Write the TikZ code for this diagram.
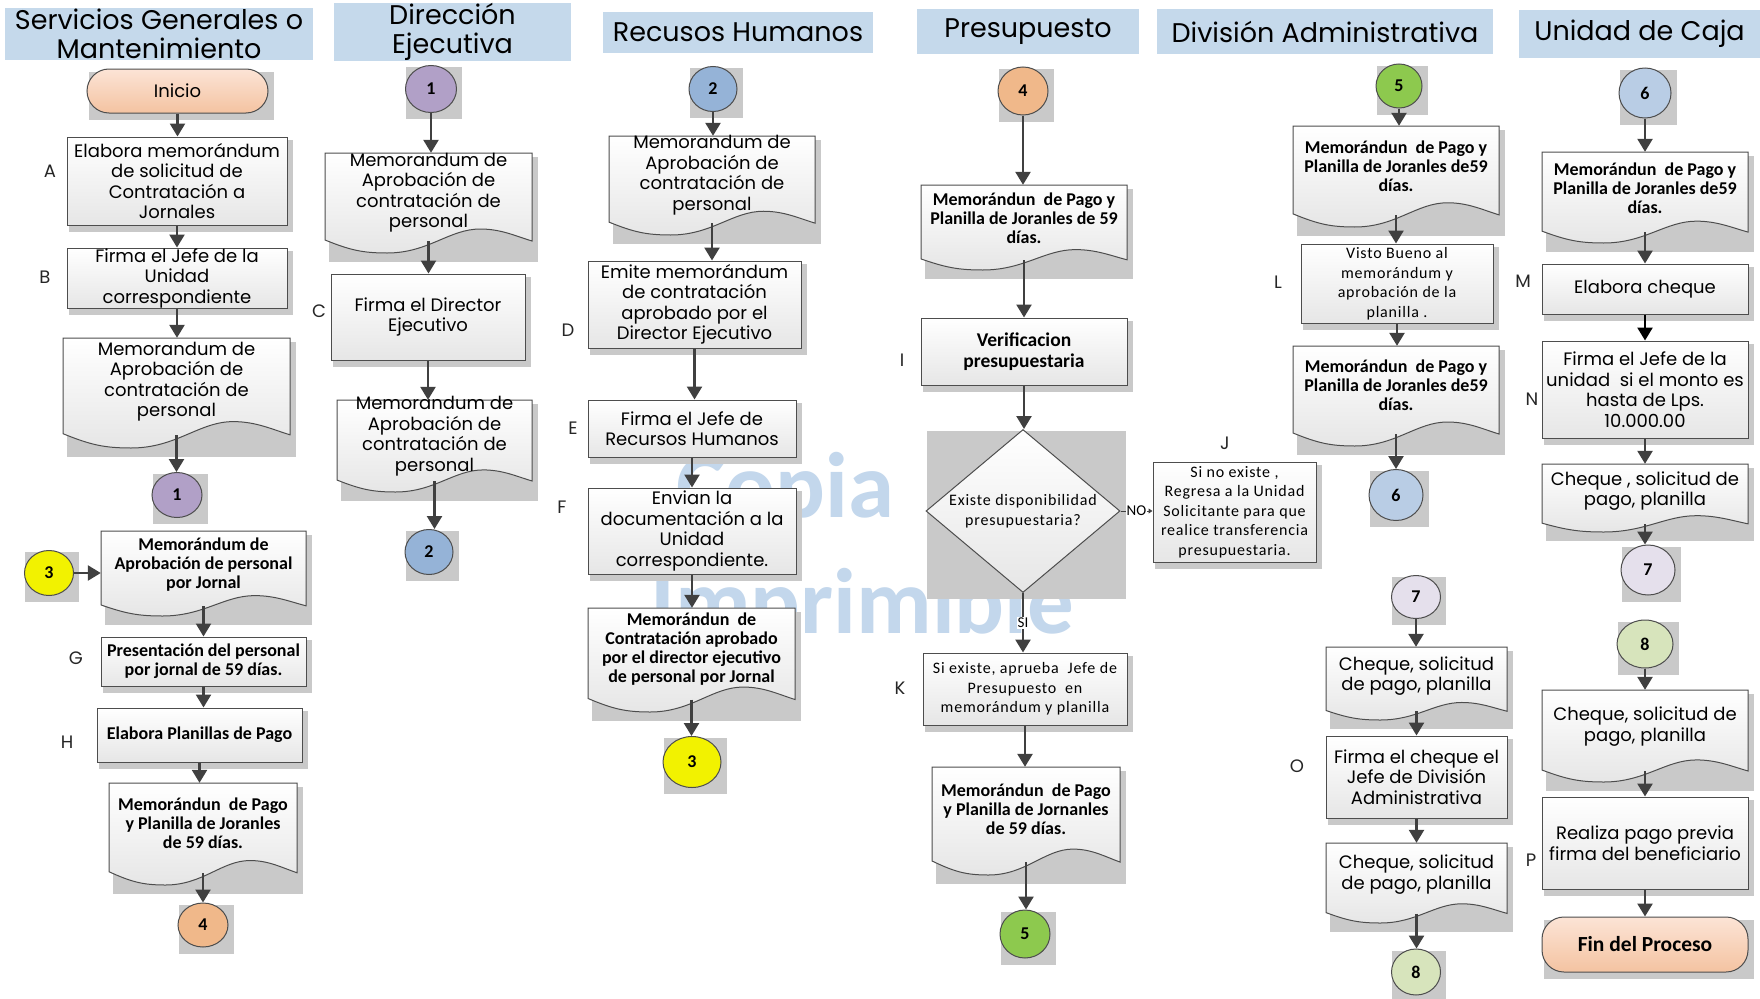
\documentclass[tikz,border=0pt]{standalone}
\usepackage{fontspec}
\usetikzlibrary{arrows.meta,shapes.geometric,calc}
\newfontfamily\gfont{Poppins}
\newfontfamily\cfont{Carlito}
\newfontfamily\cfontsp[LetterSpace=5]{Carlito}

\definecolor{hdrc}{HTML}{C5D9EB}
\definecolor{edgec}{HTML}{4D4D4D}
\definecolor{arrc}{HTML}{404040}
\definecolor{shadc}{HTML}{C9C9C9}
\definecolor{boxbot}{HTML}{E6E6E6}
\definecolor{termtop}{HTML}{FCE4D6}
\definecolor{termbot}{HTML}{F4C3A1}
\definecolor{wmc}{HTML}{C3D7EC}
\definecolor{cpur}{HTML}{B1A0C7}
\definecolor{cblu}{HTML}{95B3D7}
\definecolor{cyel}{HTML}{F2F200}
\definecolor{corg}{HTML}{F0B88A}
\definecolor{cgrn}{HTML}{8DC94E}
\definecolor{clbl}{HTML}{B9CDE5}
\definecolor{clav}{HTML}{E5E0EC}
\definecolor{coli}{HTML}{D7E4BC}

\pgfdeclarelayer{wm}
\pgfdeclarelayer{shad}
\pgfsetlayers{wm,shad,main}

\tikzset{
  hdr/.style={fill=hdrc, inner sep=0pt, align=center, font=\gfont\fontsize{27}{29.5}\selectfont},
  proc/.style={draw=edgec, line width=1pt, top color=white, bottom color=boxbot, inner sep=0pt, align=center},
  docline/.style={draw=edgec, line width=1pt, top color=white, bottom color=boxbot},
  reg/.style={font=\gfont\fontsize{18}{20.5}\selectfont},
  bld/.style={font=\cfont\bfseries\fontsize{18}{19}\selectfont},
  bldL/.style={font=\cfont\bfseries\fontsize{19.5}{21}\selectfont},
  bldT/.style={font=\cfont\bfseries\fontsize{21.5}{23}\selectfont},
  spc/.style={font=\cfontsp\fontsize{16}{19.5}\selectfont},
  term/.style={rounded corners=22pt, top color=termtop, bottom color=termbot},
  conn/.style={ellipse, draw=edgec, line width=1pt, inner sep=0pt, font=\cfont\bfseries\fontsize{18}{18}\selectfont},
  arr/.style={draw=arrc, line width=2.5pt, -{Triangle[width=15pt,length=13pt]}},
  lbl/.style={font=\gfont\fontsize{18}{18}\selectfont, text=black!85, inner sep=0pt},
  tag/.style={fill=white, inner sep=1pt, font=\cfont\fontsize{15}{15}\selectfont},
  wmark/.style={font=\cfont\bfseries\fontsize{93}{93}\selectfont, text=wmc, inner sep=0pt, anchor=base west}
}

% gray drop box behind a node (bounding box, shifted)
\newcommand\shadowof[5]{%
  \path (#1.west |- #1.north) coordinate (tmpa) (#1.east |- #1.south) coordinate (tmpb);
  \begin{pgfonlayer}{shad}
    \fill[shadc] ($(tmpa)+(#2,#3)$) rectangle ($(tmpb)+(#4,#5)$);
  \end{pgfonlayer}}

% process box: style, name, x1, y1, x2, y2, text
\newcommand\pbox[7]{%
  \pgfmathsetmacro\bxX{(#3+#5)/2}%
  \pgfmathsetmacro\bxY{(#4+#6)/2}%
  \pgfmathsetmacro\bxW{#5-#3}%
  \pgfmathsetmacro\bxH{#6-#4}%
  \node[proc,#1,minimum width=\bxW pt,minimum height=\bxH pt] (#2) at (\bxX,\bxY) {#7};
  \shadowof{#2}{2}{3}{5}{6}}

% document shape: style, name, x1, top, x2, lowest point of the wave, text
% (#2 is the body down to the wave at mid width, #2t holds the text)
\newcommand\dbox[7]{%
  \pgfmathsetmacro\docW{#5-#3}%
  \pgfmathsetmacro\docH{#6-#4}%
  \pgfmathsetmacro\docX{(#3+#5)/2}%
  \pgfmathsetmacro\docY{#4+0.44*\docH}%
  \pgfmathsetmacro\docT{#4+0.395*\docH}%
  \pgfmathsetmacro\docN{0.88*\docH}%
  \begin{pgfonlayer}{shad}
    \fill[shadc] (#3+4,#4+4) rectangle (#5+6,#6+9);
  \end{pgfonlayer}
  \draw[docline] (#3,#4) -- (#3,#6-0.13*\docH)
    .. controls +(0.12*\docW,0.1*\docH) and +(-0.12*\docW,0) .. (#3+0.3*\docW,#6)
    .. controls +(0.2*\docW,0) and +(-0.15*\docW,0) .. (#3+0.75*\docW,#6-0.24*\docH)
    .. controls +(0.1*\docW,0) and +(-0.08*\docW,-0.05*\docH) .. (#5,#6-0.12*\docH)
    -- (#5,#4) -- cycle;
  \node[inner sep=0pt, minimum width=\docW pt, minimum height=\docN pt] (#2) at (\docX,\docY) {};
  \node[#1, align=center, inner sep=0pt] (#2t) at (\docX,\docT) {#7};}

% off-page connector circle: name, cx, cy, width, height, colour, text
\newcommand\cnode[7]{%
  \node[conn, fill=#6, minimum width=#4pt, minimum height=#5pt] (#1) at (#2,#3) {#7};
  \shadowof{#1}{1}{2}{5}{6}}

% vertical flow arrow between two named nodes
\newcommand\flow[3][]{\draw[arr,#1] (#2.south) -- (#2.south |- #3.north);}

\begin{document}
\begin{tikzpicture}[x=1pt,y=-1pt]
\useasboundingbox (0,0) rectangle (1760,998);
\begin{pgfonlayer}{wm}
  \fill[white] (0,0) rectangle (1760,998);
  \node[wmark] (wm1) at (676,517) {Copia};
  \node[wmark] (wm2) at (650,633) {Imprimible};
\end{pgfonlayer}

% lane headers
\node[hdr, minimum width=308pt, minimum height=52pt] (h1) at (159,34) {Servicios Generales o\\Mantenimiento};
\node[hdr, minimum width=237pt, minimum height=46pt] (h2) at (452.5,32) {Dirección\\Ejecutiva};
\node[hdr, minimum width=270pt, minimum height=41pt] (h3) at (738,32.5) {Recusos Humanos};
\node[hdr, minimum width=222pt, minimum height=45pt] (h4) at (1028,31.5) {Presupuesto};
\node[hdr, minimum width=336pt, minimum height=45pt] (h5) at (1325,31.5) {División Administrativa};
\node[hdr, minimum width=241pt, minimum height=48pt] (h6) at (1639.5,34) {Unidad de Caja};

% Servicios Generales o Mantenimiento
\pbox{term,reg}{ini}{87}{69}{268}{113}{Inicio}
\pbox{reg}{A}{67}{137}{287}{225}{Elabora memorándum\\de solicitud de\\Contratación a\\Jornales}
\pbox{reg}{B}{67}{248}{287}{308}{Firma el Jefe de la\\Unidad\\correspondiente}
\dbox{reg}{dA}{63}{338}{290}{448}{Memorandum de\\Aprobación de\\contratación de\\personal}
\cnode{c1a}{177}{495}{50}{45}{cpur}{1}
\cnode{c3a}{49}{573}{49}{45}{cyel}{3}
\dbox{bld}{dB}{101}{531}{306}{616}{Memorándum de\\Aprobación de personal\\por Jornal}
\pbox{bld}{G}{101}{637}{306}{686}{Presentación del personal\\por jornal de 59 días.}
\pbox{bld}{H}{97}{708}{302}{762}{Elabora Planillas de Pago}
\dbox{bld}{dC}{109}{783}{297}{885}{Memorándun~ de Pago\\y Planilla de Joranles\\de 59 días.}
\cnode{c4a}{203}{925}{50}{44}{corg}{4}

% Dirección Ejecutiva
\cnode{c1b}{431}{89}{51}{47}{cpur}{1}
\dbox{reg}{dD}{325}{153}{532}{253}{Memorandum de\\Aprobación de\\contratación de\\personal}
\pbox{reg}{C}{331}{274}{525}{360}{Firma el Director\\Ejecutivo}
\dbox{reg}{dE}{337}{400}{532}{492}{Memorandum de\\Aprobación de\\contratación de\\personal}
\cnode{c2b}{429}{552}{48}{45}{cblu}{2}

% Recursos Humanos
\cnode{c2c}{713}{89}{48}{45}{cblu}{2}
\dbox{reg}{dF}{609}{136}{815}{235}{Memorandum de\\Aprobación de\\contratación de\\personal}
\pbox{reg}{D}{588}{261}{801}{348}{Emite memorándum\\de contratación\\aprobado por el\\Director Ejecutivo}
\pbox{reg}{E}{588}{400}{796}{457}{Firma el Jefe de\\Recursos Humanos}
\pbox{reg}{F}{588}{488}{796}{574}{Envian la\\documentación a la\\Unidad\\correspondiente.}
\dbox{bld}{dG}{588}{608}{795}{712}{Memorándun~ de\\Contratación aprobado\\por el director ejecutivo\\de personal por Jornal}
\cnode{c3c}{692}{762}{58}{51}{cyel}{3}

% Presupuesto
\cnode{c4d}{1023}{91}{50}{48}{corg}{4}
\dbox{bld}{dH}{921}{185}{1127}{270}{Memorándun~ de Pago y\\Planilla de Joranles de 59\\días.}
\pbox{bldL}{I}{921}{318}{1127}{385}{Verificacion\\presupuestaria}
\node[proc, spc, diamond, aspect=1.19, minimum width=194pt, minimum height=163pt] (dia) at (1023,511) {Existe disponibilidad\\presupuestaria?};
\shadowof{dia}{1}{2}{5}{6}
\pbox{spc}{K}{923}{653}{1127}{725}{Si existe, aprueba~ Jefe de\\Presupuesto~ en\\memorándum y planilla}
\dbox{bld}{dI}{932}{767}{1120}{875}{Memorándun~ de Pago\\y Planilla de Jornanles\\de 59 días.}
\cnode{c5d}{1025}{934}{50}{48}{cgrn}{5}
\pbox{spc}{J}{1153}{462}{1316}{562}{Si no existe ,\\Regresa a la Unidad\\Solicitante para que\\realice transferencia\\presupuestaria.}

% División Administrativa
\cnode{c5e}{1399}{86}{46}{44}{cgrn}{5}
\dbox{bld}{dJ}{1293}{126}{1499}{227}{Memorándun~ de Pago y\\Planilla de Joranles de59\\días.}
\pbox{spc}{L}{1301}{244}{1493}{323}{Visto Bueno al\\memorándum y\\aprobación de la\\planilla .}
\dbox{bld}{dK}{1293}{346}{1499}{446}{Memorándun~ de Pago y\\Planilla de Joranles de59\\días.}
\cnode{c6e}{1396}{495}{54}{51}{clbl}{6}
\cnode{c7e}{1416}{597}{49}{43}{clav}{7}
\dbox{reg}{dL}{1326}{647}{1507}{720}{Cheque, solicitud\\de pago, planilla}
\pbox{reg}{O}{1326}{736}{1507}{818}{Firma el cheque el\\Jefe de División\\Administrativa}
\dbox{reg}{dM}{1326}{843}{1507}{923}{Cheque, solicitud\\de pago, planilla}
\cnode{c8e}{1416}{972}{49}{46}{coli}{8}

% Unidad de Caja
\cnode{c6f}{1645}{93}{52}{50}{clbl}{6}
\dbox{bld}{dN}{1542}{152}{1748}{243}{Memorándun~ de Pago y\\Planilla de Joranles de59\\días.}
\pbox{reg}{M}{1542}{264}{1748}{314}{Elabora cheque}
\pbox{reg}{N}{1542}{341}{1748}{438}{Firma el Jefe de la\\unidad~ si el monto es\\hasta de Lps.\\10.000.00}
\dbox{reg}{dO}{1542}{464}{1748}{532}{Cheque , solicitud de\\pago, planilla}
\cnode{c7f}{1648}{570}{54}{50}{clav}{7}
\cnode{c8f}{1645}{644}{56}{48}{coli}{8}
\dbox{reg}{dP}{1542}{690}{1748}{782}{Cheque, solicitud de\\pago, planilla}
\pbox{reg}{P}{1542}{797}{1748}{889}{Realiza pago previa\\firma del beneficiario}
\pbox{term,bldT}{fin}{1542}{917}{1748}{972}{Fin del Proceso}

% step letters
\node[lbl] (lA) at (50,171) {A};
\node[lbl] (lB) at (45,277) {B};
\node[lbl] (lC) at (319,311) {C};
\node[lbl] (lD) at (568,330) {D};
\node[lbl] (lE) at (573,428) {E};
\node[lbl] (lF) at (562,507) {F};
\node[lbl] (lG) at (76,658) {G};
\node[lbl] (lH) at (67,742) {H};
\node[lbl] (lI) at (902,360) {I};
\node[lbl] (lJ) at (1225,443) {J};
\node[lbl] (lK) at (900,688) {K};
\node[lbl] (lL) at (1278,282) {L};
\node[lbl] (lM) at (1523,281) {M};
\node[lbl] (lN) at (1532,399) {N};
\node[lbl] (lO) at (1297,766) {O};
\node[lbl] (lP) at (1531,860) {P};

% connectors
\flow{ini}{A} \flow{A}{B} \flow{B}{dA} \flow{dA}{c1a}
\draw[arr] (c3a.east) -- (c3a.east -| dB.west);
\flow{dB}{G} \flow{G}{H} \flow{H}{dC} \flow{dC}{c4a}
\flow{c1b}{dD} \flow{dD}{C} \flow{C}{dE} \flow{dE}{c2b}
\flow{c2c}{dF} \flow{dF}{D} \flow{D}{E} \flow{E}{F} \flow{F}{dG} \flow{dG}{c3c}
\flow{c4d}{dH} \flow{dH}{I} \flow{I}{dia}
\draw[arr] (dia.south) -- node[tag] (si) {SI} (dia.south |- K.north);
\draw[draw=arrc, line width=1pt, -{Triangle[width=5pt,length=4pt]}] (dia.east) -- node[tag] (no) {NO} (dia.east -| J.west);
\flow{K}{dI} \flow{dI}{c5d}
\flow{c5e}{dJ} \flow{dJ}{L} \flow{L}{dK} \flow{dK}{c6e}
\flow{c7e}{dL} \flow{dL}{O} \flow{O}{dM} \flow{dM}{c8e}
\flow{c6f}{dN} \flow{dN}{M} \flow[draw=black]{M}{N} \flow{N}{dO} \flow{dO}{c7f}
\flow{c8f}{dP} \flow{dP}{P} \flow{P}{fin}
\end{tikzpicture}
\end{document}
